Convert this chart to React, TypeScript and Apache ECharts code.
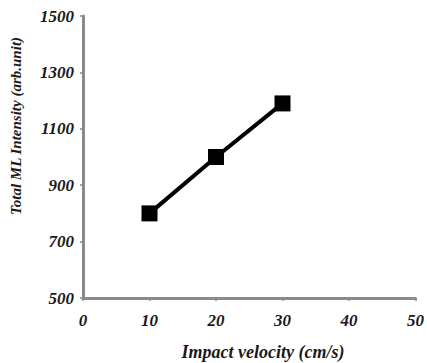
import React, { useEffect, useRef } from "react";
import * as echarts from "echarts";

const velocities = [10, 20, 30];
const intensities = [800, 1000, 1190];

const xTitle = "Impact velocity (cm/s)";
const yTitle = "Total ML Intensity (arb.unit)";

export default function App() {
  const ref = useRef<HTMLDivElement>(null);

  useEffect(() => {
    if (!ref.current) return;
    const chart = echarts.init(ref.current, undefined, { renderer: "svg" });
    const family = "'Liberation Serif', 'DejaVu Serif', serif";
    const font = {
      fontFamily: family,
      fontStyle: "italic" as const,
      fontWeight: "bold" as const,
      color: "#1a1a1a",
    };
    chart.setOption({
      animation: false,
      backgroundColor: "#ffffff",
      grid: { left: 83, right: 8, top: 16, bottom: 65 },
      graphic: [
        {
          type: "text",
          x: 16,
          y: 126,
          rotation: Math.PI / 2,
          style: {
            text: yTitle,
            fontFamily: family,
            fontStyle: "italic",
            fontWeight: "bold",
            fontSize: 15,
            fill: "#1a1a1a",
            align: "center",
            verticalAlign: "middle",
          },
        },
        {
          type: "text",
          x: 263,
          y: 352,
          style: {
            text: xTitle,
            fontFamily: family,
            fontStyle: "italic",
            fontWeight: "bold",
            fontSize: 18,
            fill: "#1a1a1a",
            align: "center",
            verticalAlign: "middle",
          },
        },
      ],
      xAxis: {
        type: "value",
        min: 0,
        max: 50,
        interval: 10,
        axisLine: { lineStyle: { color: "#8a8a8a", width: 3 } },
        axisTick: { show: true, length: 3, lineStyle: { color: "#8a8a8a", width: 1.5 } },
        axisLabel: { ...font, fontSize: 17, margin: 14 },
        splitLine: { show: false },
      },
      yAxis: {
        type: "value",
        min: 500,
        max: 1500,
        interval: 200,
        axisLine: { show: true, lineStyle: { color: "#8a8a8a", width: 3 } },
        axisTick: { show: true, length: 3, lineStyle: { color: "#8a8a8a", width: 1.5 } },
        axisLabel: { ...font, fontSize: 17, margin: 9, formatter: (v: number) => String(v) },
        splitLine: { show: false },
      },
      series: [
        {
          type: "line",
          data: velocities.map((v, i) => [v, intensities[i]]),
          symbol: "rect",
          symbolSize: 16,
          itemStyle: { color: "#000000" },
          lineStyle: { color: "#000000", width: 4 },
        },
      ],
    });
    return () => chart.dispose();
  }, []);

  return <div ref={ref} style={{ width: 427, height: 363, position: "absolute", left: 0, top: 0 }} />;
}
